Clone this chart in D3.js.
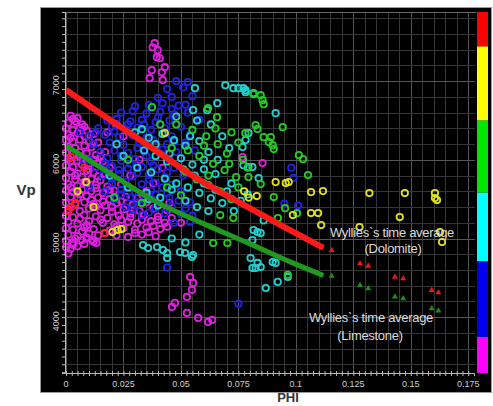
<!DOCTYPE html>
<html>
<head>
<meta charset="utf-8">
<style>
 body { margin: 0; background: #fff; }
 text.tick { font-family: "Liberation Sans", Arial, sans-serif; font-size: 9px; fill: #cfcfcf; }
 text.note { font-family: "Liberation Sans", Arial, sans-serif; font-size: 13px; fill: #dcdcdc; letter-spacing: -0.3px; }
 text.title { font-family: "Liberation Sans", Arial, sans-serif; font-weight: bold; fill: #333; }
</style>
<script src="https://d3js.org/d3.v7.min.js"></script>
</head>
<body>
<div id="chart"></div>
<script>
// axis ticks
var xTicks = [0, 0.025, 0.05, 0.075, 0.1, 0.125, 0.15, 0.175],
    xTickLabels = ["0", "0.025", "0.05", "0.075", "0.1", "0.125", "0.15", "0.175"],
    yTicks = [4000, 5000, 6000, 7000],
    yTickLabels = ["4000", "5000", "6000", "7000"];

// colour bar classes (bottom to top) and their breaks on a 0..1 scale
var classColors = ["#ff00ff", "#0000f0", "#00ffff", "#00e600", "#ffff00", "#ff0000"],
    classBreaks = [0, 0.10, 0.31, 0.50, 0.70, 0.905, 1];

// scatter points [phi, vp] read by colour
var magentaPts = [
 [0.0386,7483],[0.0377,7432],[0.0399,7394],[0.0395,7305],[0.0408,7292],[0.043,7178],[0.0417,7114],[0.0373,7140],[0.0364,7038],[0.0421,7013],
 [0.002,6560],[0.005,6530],[0.001,6470],[0.004,6490],[0.007,6450],[0.000,6400],[0.003,6380],[0.006,6410],[0.009,6370],
 [0.001,6320],[0.005,6340],[0.008,6300],[0.012,6330],[0.000,6250],[0.003,6230],[0.006,6260],[0.010,6240],[0.014,6220],
 [0.001,6170],[0.004,6150],[0.008,6180],[0.011,6160],[0.000,6090],[0.003,6070],[0.006,6100],[0.009,6080],[0.013,6060],[0.017,6100],
 [0.001,6010],[0.005,5990],[0.008,6020],[0.012,6000],[0.016,5980],[0.000,5930],[0.003,5910],[0.007,5940],[0.010,5920],[0.014,5950],[0.019,5900],
 [0.002,5850],[0.005,5830],[0.009,5860],[0.012,5840],[0.017,5820],[0.000,5770],[0.004,5750],[0.007,5780],[0.011,5760],[0.015,5740],[0.020,5770],
 [0.001,5690],[0.005,5670],[0.009,5700],[0.013,5680],[0.018,5660],[0.024,5690],[0.000,5610],[0.003,5590],[0.007,5620],[0.011,5600],[0.016,5580],[0.021,5610],
 [0.002,5530],[0.005,5510],[0.009,5540],[0.014,5520],[0.019,5500],[0.026,5530],[0.031,5510],
 [0.000,5450],[0.004,5430],[0.008,5460],[0.012,5440],[0.017,5420],[0.022,5450],[0.029,5430],[0.035,5460],
 [0.001,5370],[0.006,5350],[0.010,5380],[0.015,5360],[0.020,5340],[0.025,5370],[0.032,5350],[0.038,5380],[0.044,5360],
 [0.000,5290],[0.003,5270],[0.008,5300],[0.013,5280],[0.018,5260],[0.023,5290],[0.028,5270],[0.034,5300],[0.040,5280],[0.046,5260],
 [0.001,5210],[0.005,5190],[0.010,5220],[0.016,5200],[0.021,5180],[0.027,5210],[0.031,5190],[0.037,5220],[0.043,5200],
 [0.000,5130],[0.003,5110],[0.008,5140],[0.012,5120],[0.019,5100],[0.025,5130],[0.030,5110],[0.035,5140],[0.041,5120],
 [0.001,5050],[0.005,5030],[0.010,5060],[0.014,5040],[0.027,5020],[0.033,5050],[0.039,5030],
 [0.000,4970],[0.003,4950],[0.007,4980],[0.012,4960],[0.0114,4981],[0.0132,4943],[0.000,4890],[0.002,4870],[0.005,4900],[0.001,4810],
 [0.003,6520],[0.008,6420],[0.002,6280],[0.012,6200],[0.006,6040],[0.015,6040],[0.002,5980],[0.010,5880],[0.004,5800],[0.014,5790],
 [0.008,5720],[0.002,5650],[0.013,5640],[0.019,5620],[0.006,5560],[0.011,5490],[0.016,5470],[0.024,5470],[0.002,5400],[0.013,5400],
 [0.020,5400],[0.028,5320],[0.006,5250],[0.015,5240],[0.024,5240],[0.033,5240],[0.040,5240],[0.009,5170],[0.022,5150],[0.038,5160],
 [0.044,5150],[0.007,5090],[0.017,5070],[0.030,5070],[0.036,5080],[0.022,5040],[0.004,5000],[0.009,5010],[0.003,4920],[0.008,4930],
 [0.025,6300],[0.032,6000],[0.038,5700],[0.045,5450],[0.050,5200],[0.022,6450],[0.028,5800],[0.042,5900],[0.018,6350],[0.035,5600],
 [0.0768,6035],[0.0855,5959],
 [0.054,4511],[0.0553,4435],[0.0548,4346],[0.0526,4257],[0.0474,4181],[0.0461,4130],[0.0526,4054],[0.0575,3990],[0.0618,3939],[0.0636,3965]
];
var bluePts = [
 [0.048,7000],[0.053,6990],[0.051,6920],[0.044,6900],[0.046,6800],[0.040,6790],[0.055,6810],
 [0.036,6700],[0.042,6720],[0.049,6690],[0.030,6680],
 [0.024,6600],[0.029,6620],[0.035,6590],[0.041,6610],[0.047,6580],[0.053,6600],
 [0.018,6500],[0.022,6520],[0.028,6490],[0.033,6510],[0.039,6480],[0.045,6500],[0.058,6510],
 [0.014,6400],[0.020,6420],[0.026,6390],[0.031,6410],[0.037,6380],[0.043,6400],[0.050,6420],
 [0.010,6300],[0.017,6320],[0.023,6290],[0.029,6310],[0.035,6280],[0.046,6300],[0.054,6320],
 [0.012,6200],[0.019,6220],[0.025,6190],[0.032,6210],[0.039,6180],[0.044,6200],[0.052,6220],
 [0.015,6100],[0.021,6120],[0.027,6090],[0.034,6110],[0.041,6080],[0.048,6100],[0.056,6120],
 [0.010,6000],[0.018,6020],[0.024,5990],[0.030,6010],[0.037,5980],[0.045,6000],[0.050,6020],
 [0.013,5900],[0.020,5920],[0.027,5890],[0.033,5910],[0.040,5880],[0.047,5900],
 [0.016,5800],[0.023,5820],[0.029,5790],[0.036,5810],[0.043,5780],[0.051,5800],
 [0.020,5700],[0.026,5720],[0.033,5690],[0.039,5710],[0.046,5680],
 [0.017,5600],[0.024,5620],[0.030,5590],[0.037,5610],[0.044,5580],[0.050,5600],
 [0.021,5500],[0.028,5520],[0.034,5490],[0.041,5510],[0.049,5480],
 [0.026,5400],[0.031,5420],[0.039,5390],[0.046,5410],[0.052,5380],
 [0.033,5300],[0.050,5310],[0.055,5290],[0.047,5200],[0.054,5210],
 [0.013,6350],[0.021,6360],[0.027,6450],[0.034,6450],[0.040,6540],[0.046,6650],[0.052,6700],[0.038,6250],[0.031,6150],[0.024,6050],
 [0.028,5950],[0.035,6050],[0.042,6130],[0.047,6230],[0.017,5950],[0.023,5870],[0.031,5840],[0.038,5930],[0.044,5840],[0.020,5760],
 [0.027,5660],[0.036,5750],[0.042,5650],[0.024,5560],[0.031,5460],[0.039,5560],[0.045,5520],[0.029,5370],[0.036,5330],[0.043,5320],
 [0.054,5460],[0.010,5650],[0.008,5980],[0.006,6350],
 [0.044,4630],[0.075,4170],[0.098,5900],[0.099,5770],[0.101,5420],[0.095,5445]
];
var cyanPts = [
 [0.0561,6911],[0.0693,6949],[0.0728,6911],[0.075,6911],[0.0781,6886],[0.0658,6721],[0.0614,6632],[0.0553,6632],
 [0.0772,6911],[0.0781,6860],[0.0816,6848],[0.0912,6594],[0.0794,6340],[0.0781,6251],[0.0768,6162],[0.0838,5768],
 [0.0772,5933],[0.0794,5908],[0.0811,5908],
 [0.030,6350],[0.036,6280],[0.042,6330],[0.047,6250],[0.052,6180],[0.058,6240],[0.062,6100],[0.034,6120],[0.039,6050],
 [0.044,5980],[0.050,6020],[0.055,5940],[0.060,5880],[0.065,5820],[0.031,5900],[0.037,5840],[0.043,5760],[0.048,5700],
 [0.053,5650],[0.058,5580],[0.063,5510],[0.068,5450],[0.027,5650],[0.035,5580],[0.041,5520],[0.057,5400],[0.062,5350],
 [0.070,5600],[0.072,5700],[0.066,6000],[0.071,6150],[0.068,6300],[0.063,6450],[0.057,6500],[0.025,6050],[0.022,6200],[0.019,5800],
 [0.033,6390],[0.039,6200],[0.045,6080],[0.051,5880],[0.056,5800],[0.046,5620],[0.052,5480],[0.040,5420],[0.060,6000],[0.054,6300],
 [0.048,6550],[0.060,5700],[0.065,5620],[0.036,5500],
 [0.0335,4917],[0.0357,4879],[0.0396,4892],[0.0422,4854],[0.044,4816],[0.044,4752],[0.0496,4828],[0.0518,4816],[0.0548,4765],
 [0.0553,4790],[0.046,5000],[0.052,4950],[0.058,5050],
 [0.0816,5108],[0.0811,4981],[0.0833,5083],[0.0847,5070],[0.0803,4752],[0.0833,4689],[0.0811,4625],[0.0825,4625],[0.0847,4638],
 [0.0899,4701],[0.0912,4689],[0.0869,4371],[0.0921,4448],[0.0965,4511],
 [0.076,5480],[0.079,5560],[0.073,5350],[0.086,5230]
];
var greenPts = [
 [0.0816,6835],[0.0847,6822],[0.0855,6759],[0.0860,6708],[0.0825,6442],[0.0833,6391],[0.0943,6416],[0.0860,6289],[0.0891,6289],
 [0.0882,6226],[0.0899,6187],[0.0904,6137],[0.1013,6060],[0.1031,6009],[0.1053,5806],[0.0794,5781],[0.0847,5692],[0.0904,5527],
 [0.0374,6670],[0.0618,6657],[0.0657,6543],[0.078,6339],
 [0.048,6450],[0.055,6380],[0.061,6300],[0.066,6200],[0.070,6080],[0.058,6050],[0.064,5950],[0.069,5870],[0.074,5780],[0.052,5850],
 [0.057,5750],[0.062,5680],[0.067,5600],[0.072,5500],[0.075,5650],[0.077,6000],[0.046,6150],[0.041,6450],[0.044,5650],[0.050,5550],
 [0.027,6000],[0.033,5450],[0.021,5520],
 [0.053,6120],[0.060,6180],[0.065,6400],[0.072,6350],[0.075,6220],[0.071,5950],[0.079,5900],[0.062,5800],
 [0.0671,5298],[0.0728,5260],[0.0702,4943],[0.064,4943],[0.0965,4537],[0.0953,5386],[0.0922,5259],[0.1005,5322]
];
var yellowPts = [
 [0.1066,5324],[0.1097,5324],[0.0987,5298],[0.111,5171],[0.1277,5146],[0.1452,5273],[0.1627,5083],[0.1636,4955],[0.1614,5489],
 [0.0912,5717],[0.0956,5705],[0.0969,5717],[0.1066,5590],[0.1118,5603],[0.132,5578],[0.1474,5578],[0.1605,5578],[0.1605,5514],
 [0.0202,5082],[0.0224,5108],[0.0241,5120],[0.043,6340],[0.0088,5717],[0.0775,5600],[0.0795,5520],[0.0830,5540],[0.012,5400],[0.005,5600]
];
var redPts = [
 [0.0022,6035],[0.0022,5400],[0.0167,5070],[0.004,5450],[0.001,5350],[0.008,5900]
];

// Wyllie time average curves
var dolomiteLine = [[0,6890],[0.015,6590],[0.037,6160],[0.058,5745],[0.076,5450],[0.094,5160],[0.112,4880]],
    limestoneLine = [[0,6180],[0.019,5831],[0.0395,5463],[0.0583,5208],[0.0803,4929],[0.0978,4700],[0.112,4530]],
    dolomiteTri = [[0.1156,4852],[0.1279,4683],[0.1315,4652],[0.1431,4512],[0.1467,4492],[0.1591,4343],[0.162,4314]],
    limestoneTri = [[0.1156,4522],[0.1279,4407],[0.1315,4365],[0.1431,4258],[0.1467,4238],[0.1591,4111],[0.162,4081]];

var W = 493, H = 406;
var svg = d3.select("#chart").append("svg")
    .attr("width", W).attr("height", H)
    .style("display", "block");

svg.append("rect").attr("width", W).attr("height", H).attr("fill", "#fff");

// black panel
svg.append("rect")
    .attr("x", 40.5).attr("y", 7.5).attr("width", 451).attr("height", 385)
    .attr("fill", "#000").attr("stroke", "#9a9a9a");

var x = d3.scaleLinear().domain([0, 0.1775]).range([66, 474]),
    y = d3.scaleLinear().domain([3290, 7880]).range([373, 12]);

var plot = svg.append("g");

// grid
var xGrid = d3.range(0, 0.1776, 0.005),
    yGrid = d3.range(3400, 7801, 200);
plot.selectAll(".vgrid").data(xGrid).enter().append("line")
    .attr("x1", function(d) { return Math.round(x(d)) + 0.5; })
    .attr("x2", function(d) { return Math.round(x(d)) + 0.5; })
    .attr("y1", y.range()[1]).attr("y2", y.range()[0])
    .attr("stroke", function(d, i) { return i % 5 == 0 ? "#555" : "#363636"; });
plot.selectAll(".hgrid").data(yGrid).enter().append("line")
    .attr("y1", function(d) { return Math.round(y(d)) + 0.5; })
    .attr("y2", function(d) { return Math.round(y(d)) + 0.5; })
    .attr("x1", 65).attr("x2", 475)
    .attr("stroke", function(d) { return d % 1000 == 0 ? "#555" : "#363636"; });
plot.append("line").attr("x1", 65).attr("x2", 476).attr("y1", 12.5).attr("y2", 12.5).attr("stroke", "#666");

// axes
var xMinor = d3.axisBottom(x).tickValues(d3.range(0, 0.1751, 0.0025)).tickSize(3).tickFormat("");
var gx = svg.append("g").attr("transform", "translate(0,373)").call(xMinor);
gx.select(".domain").attr("stroke", "#bbb");
gx.selectAll(".tick line").attr("stroke", "#bbb").attr("y1", -2);

var yMinor = d3.axisLeft(y).tickValues(d3.range(3300, 7801, 100)).tickSize(3).tickFormat("");
var gy = svg.append("g").attr("transform", "translate(65,0)").call(yMinor);
gy.select(".domain").attr("stroke", "#bbb");
gy.selectAll(".tick line").attr("stroke", "#bbb");

svg.selectAll(".xlab").data(xTicks).enter().append("text")
    .attr("class", "tick")
    .attr("x", function(d) { return x(d); })
    .attr("y", 387)
    .attr("text-anchor", "middle")
    .text(function(d, i) { return xTickLabels[i]; });

svg.selectAll(".ylab").data(yTicks).enter().append("text")
    .attr("class", "tick")
    .attr("transform", function(d) { return "translate(59," + (y(d) + 4) + ") rotate(-90)"; })
    .attr("text-anchor", "middle")
    .text(function(d, i) { return yTickLabels[i]; });

// colour bar
var cb = d3.scaleLinear().domain([0, 1]).range([373, 12]);
svg.selectAll(".cbar").data(classColors).enter().append("rect")
    .attr("x", 477).attr("width", 11)
    .attr("y", function(d, i) { return cb(classBreaks[i + 1]); })
    .attr("height", function(d, i) { return cb(classBreaks[i]) - cb(classBreaks[i + 1]); })
    .attr("fill", function(d) { return d; });

// scatter
var groups = [
  [magentaPts, "#e020e0"],
  [bluePts, "#2222e8"],
  [cyanPts, "#22d0d0"],
  [greenPts, "#22cc22"],
  [yellowPts, "#e0e020"],
  [redPts, "#ff2020"]
];
groups.forEach(function(g) {
  plot.append("g").selectAll("circle").data(g[0]).enter().append("circle")
      .attr("cx", function(d) { return x(d[0]); })
      .attr("cy", function(d) { return y(d[1]); })
      .attr("r", 3.2)
      .attr("fill", "none")
      .attr("stroke", g[1])
      .attr("stroke-width", 1.8);
});

// Wyllie curves
var line = d3.line()
    .x(function(d) { return x(d[0]); })
    .y(function(d) { return y(d[1]); })
    .curve(d3.curveMonotoneX);
plot.append("path").datum(limestoneLine).attr("d", line)
    .attr("fill", "none").attr("stroke", "#1f9a1f").attr("stroke-width", 5);
plot.append("path").datum(dolomiteLine).attr("d", line)
    .attr("fill", "none").attr("stroke", "#ff1a1a").attr("stroke-width", 6);

var tri = d3.symbol().type(d3.symbolTriangle).size(16);
plot.selectAll(".dtri").data(dolomiteTri).enter().append("path")
    .attr("d", tri)
    .attr("transform", function(d) { return "translate(" + x(d[0]) + "," + y(d[1]) + ")"; })
    .attr("fill", "#e81818");
plot.selectAll(".ltri").data(limestoneTri).enter().append("path")
    .attr("d", tri)
    .attr("transform", function(d) { return "translate(" + x(d[0]) + "," + y(d[1]) + ")"; })
    .attr("fill", "#1f8a1f");

// annotations
var notes = [
  ["Wyllies`s time average", 392, 237],
  ["(Dolomite)", 393, 253],
  ["Wyllies`s time average", 371, 322],
  ["(Limestone)", 370, 340]
];
svg.selectAll(".note").data(notes).enter().append("text")
    .attr("class", "note")
    .attr("x", function(d) { return d[1]; })
    .attr("y", function(d) { return d[2]; })
    .attr("text-anchor", "middle")
    .text(function(d) { return d[0]; });

// axis titles
svg.append("text").attr("class", "title")
    .attr("x", 26).attr("y", 195).attr("text-anchor", "middle")
    .style("font-size", "15px").text("Vp");
svg.append("text").attr("class", "title")
    .attr("x", 288).attr("y", 402).attr("text-anchor", "middle")
    .style("font-size", "13px").text("PHI");
</script>
</body>
</html>
